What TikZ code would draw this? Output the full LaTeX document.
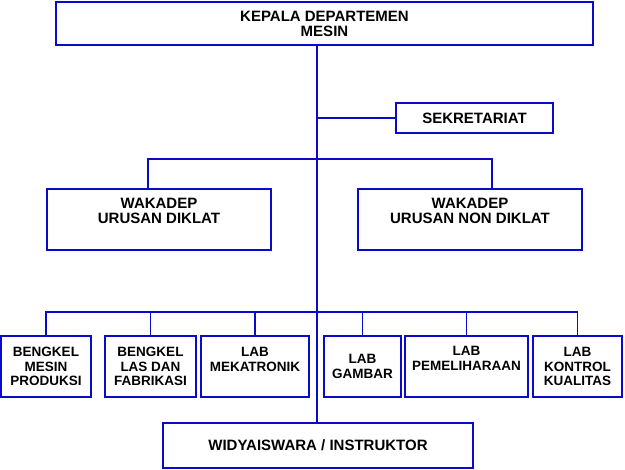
\documentclass[tikz,border=0pt]{standalone}
\usepackage{fontspec}
\setmainfont{Liberation Sans}
\definecolor{orgblue}{RGB}{10,10,205}
\begin{document}
\begin{tikzpicture}[x=1pt,y=-1pt,
  box/.style={draw=orgblue,line width=1.8pt,inner sep=0pt,align=center,
    font=\fontsize{15}{15}\selectfont\bfseries},
  smallbox/.style={box,minimum height=61pt,
    font=\fontsize{13.5}{14.5}\selectfont\bfseries},
  conn/.style={draw=orgblue,line width=1.4pt},
  trunk/.style={draw=orgblue,line width=2pt}]
\useasboundingbox (0,0) rectangle (625,470);
% main boxes
\node[box,minimum width=537pt,minimum height=43pt] (top) at (324.5,23.5) {KEPALA DEPARTEMEN\\MESIN};
\node[box,minimum width=157pt,minimum height=30pt] (sek) at (474.5,118) {SEKRETARIAT};
\node[box,minimum width=224pt,minimum height=61pt] (wl) at (159,219.5) {WAKADEP\\URUSAN DIKLAT\\[3pt]};
\node[box,minimum width=224pt,minimum height=61pt] (wr) at (470,219.5) {WAKADEP\\URUSAN NON DIKLAT\\[3pt]};
% bottom units
\node[smallbox,minimum width=90pt]  (b1) at (46,366.5)  {BENGKEL\\MESIN\\PRODUKSI};
\node[smallbox,minimum width=91pt]  (b2) at (150.5,366.5) {BENGKEL\\LAS DAN\\FABRIKASI};
\node[smallbox,minimum width=108pt] (b3) at (255,366.5) {LAB\\MEKATRONIK\\~};
\node[smallbox,minimum width=77pt]  (b4) at (362.5,366.5) {LAB\\GAMBAR};
\node[smallbox,minimum width=123pt] (b5) at (466.5,366.5) {LAB\\PEMELIHARAAN\\[2pt]};
\node[smallbox,minimum width=89pt]  (b6) at (577.5,366.5) {LAB\\KONTROL\\KUALITAS};
\node[box,minimum width=310pt,minimum height=45pt] (wid) at (318,445.5) {WIDYAISWARA / INSTRUKTOR};
% helper coordinates
\coordinate (tk) at (317,0);
\coordinate (dl) at (148,159);
\coordinate (dr) at (492,159);
\coordinate (hb) at (0,312);
% connectors
\draw[trunk] (top.south -| tk) -- (wid.north -| tk);
\draw[conn] (sek.west -| tk) -- (sek.west);
\draw[conn] (dl |- wl.north) -- (dl) -- (dr) -- (dr |- wr.north);
\draw[conn] (b1.north) -- (b1.north |- hb) -- (b6.north |- hb) -- (b6.north);
\foreach \b in {b2,b3,b4,b5} {\draw[conn] (\b.north) -- (\b.north |- hb);}
\end{tikzpicture}
\end{document}
